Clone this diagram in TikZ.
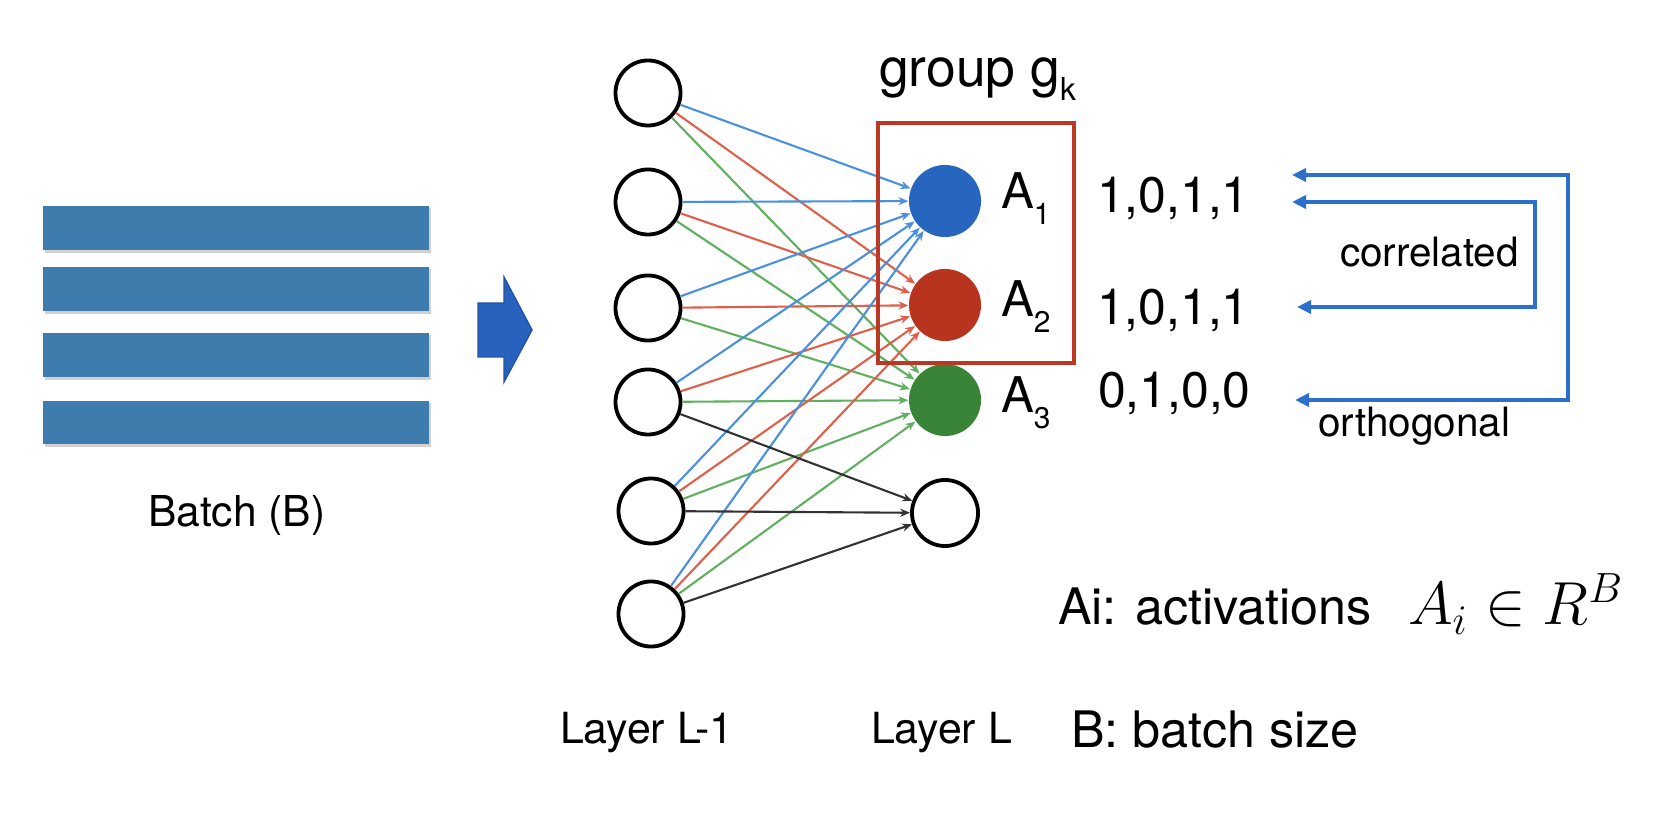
\documentclass[tikz,border=0pt]{standalone}
\usepackage{fontspec}
\setmainfont{TeX Gyre Heros}
\usetikzlibrary{arrows.meta}
\definecolor{batchblue}{RGB}{62,124,174}
\definecolor{arrowblue}{RGB}{40,98,190}
\definecolor{nodeblue}{RGB}{38,102,190}
\definecolor{nodered}{RGB}{184,52,30}
\definecolor{nodegreen}{RGB}{58,132,56}
\definecolor{boxred}{RGB}{186,56,36}
\definecolor{edgeblue}{RGB}{74,144,222}
\definecolor{edgered}{RGB}{222,96,74}
\definecolor{edgegreen}{RGB}{96,176,96}
\definecolor{edgeblack}{RGB}{50,50,50}
\definecolor{linkblue}{RGB}{42,112,204}
\newcommand\myfs[1]{\fontsize{#1}{#1}\selectfont}
\begin{document}
\begin{tikzpicture}[x=0.01cm,y=-0.01cm,
  neuron/.style={circle, draw=black, line width=0.038cm, fill=white, minimum size=0.65cm, inner sep=0},
  act/.style={circle, minimum size=0.72cm, inner sep=0},
  conn/.style={line width=0.6pt, -{Stealth[length=2.8pt,width=2.3pt]}},
  lbl/.style={anchor=base west, inner sep=0, outer sep=0},
  link/.style={draw=linkblue, line width=0.04cm, {Triangle[length=0.14cm,width=0.13cm]}-{Triangle[length=0.14cm,width=0.13cm]}}]
\useasboundingbox (0,0) rectangle (1664,834);

% batch bars
\foreach \a/\b in {206/250,267/311,333/377,401/444} {
  \fill[black!18] (45,\a+2) rectangle (431,\b+3);
  \fill[batchblue] (43,\a) rectangle (429,\b);
}
\node[lbl, font=\myfs{12.1}] (batch) at (148,527) {Batch (B)};

% block arrow
\filldraw[fill=arrowblue, draw=arrowblue!85!black, line width=0.4pt]
  (478,303) -- (504,303) -- (504,277) -- (532,330) -- (504,382) -- (504,357) -- (478,357) -- cycle;

% layer L-1
\node[neuron] (l1) at (648,93) {};
\node[neuron] (l2) at (648,202) {};
\node[neuron] (l3) at (648,308) {};
\node[neuron] (l4) at (648,402) {};
\node[neuron] (l5) at (651,511) {};
\node[neuron] (l6) at (651,614) {};

% layer L
\node[act, fill=nodeblue] (r1) at (945,201) {};
\node[act, fill=nodered] (r2) at (945,305) {};
\node[act, fill=nodegreen] (r3) at (945,400) {};
\node[neuron, minimum size=0.66cm] (r4) at (945,513) {};

% connections
\foreach \s in {1,...,6} {
  \draw[conn, edgeblue] (l\s) -- (r1);
  \draw[conn, edgered] (l\s) -- (r2);
  \draw[conn, edgegreen] (l\s) -- (r3);
}
\foreach \s in {4,5,6} {
  \draw[conn, edgeblack] (l\s) -- (r4);
}

% group box
\draw[boxred, line width=0.04cm] (878,123) rectangle (1074,363);
\node[lbl, font=\myfs{15.2}] (grp) at (879,87) {group g\raisebox{-3.8pt}{\myfs{9}k}};

% activation labels
\node[lbl, font=\myfs{14}] (a1l) at (1001,209) {A\raisebox{-4.4pt}{\myfs{8.5}1}};
\node[lbl, font=\myfs{14}] (a2l) at (1001,317) {A\raisebox{-4.4pt}{\myfs{8.5}2}};
\node[lbl, font=\myfs{14}] (a3l) at (1001,413) {A\raisebox{-4.4pt}{\myfs{8.5}3}};

% activation vectors
\node[lbl, font=\myfs{14.2}] (v1) at (1097,213) {1,0,1,1};
\node[lbl, font=\myfs{14.2}] (v2) at (1097,325) {1,0,1,1};
\node[lbl, font=\myfs{14.2}] (v3) at (1098,408) {0,1,0,0};

% correlation links
\coordinate (o1) at (1292,175);
\coordinate (o2) at (1295,400);
\coordinate (oc) at (1568,287);
\coordinate (c1) at (1292,202);
\coordinate (c2) at (1297,307);
\coordinate (cc) at (1535,255);
\draw[link] (o1) -| (oc) |- (o2);
\draw[link] (c1) -| (cc) |- (c2);
\node[lbl, font=\myfs{11.5}] (corr) at (1340,267) {correlated};
\node[lbl, font=\myfs{11.5}] (orth) at (1318,437) {orthogonal};

% legend
\node[lbl, font=\myfs{14.3}] (leg1) at (1058,625) {Ai: activations};
\node[lbl, font=\myfs{17}] (eq) at (1408,625) {$A_i \in R^B$};
\node[lbl, font=\myfs{12.2}] (lay1) at (560,743) {Layer L-1};
\node[lbl, font=\myfs{12.2}] (lay2) at (871,743) {Layer L};
\node[lbl, font=\myfs{14.3}] (leg2) at (1071,747) {B: batch size};
\end{tikzpicture}
\end{document}
